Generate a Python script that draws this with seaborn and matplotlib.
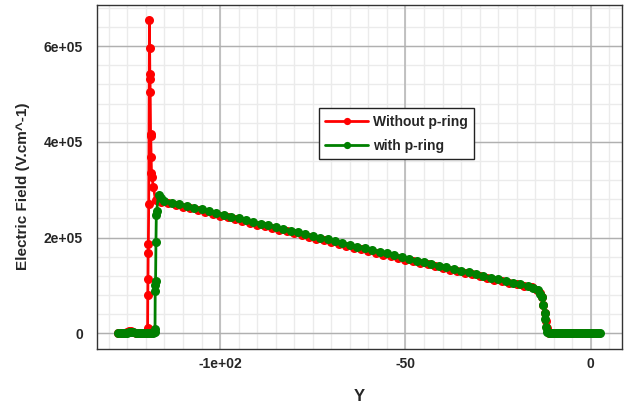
import matplotlib
matplotlib.use('Agg')
import matplotlib.pyplot as plt
from matplotlib.ticker import MultipleLocator, FixedLocator, FixedFormatter
import seaborn as sns
import pandas as pd

# position Y (um) and electric field (kV/cm)
red_pos = [-127.4, -126.8, -126.2, -125.6, -125.0, -124.5, -124.0, -123.4, -122.8, -122.2,
           -121.6, -121.0, -120.4, -119.9, -119.7,
           -119.55, -119.5, -119.45, -119.4, -119.35, -119.25, -119.05,
           -119.0, -118.95, -118.9, -118.85, -118.75, -118.7, -118.6, -118.5, -118.4, -118.0, -117.4,
           -116, -114, -112, -110, -108, -106, -104, -102, -100, -98,
           -96, -94, -92, -90, -88, -86, -84, -82, -80, -78,
           -76, -74, -72, -70, -68, -66, -64, -62, -60, -58,
           -56, -54, -52, -50, -48, -46, -44, -42, -40, -38,
           -36, -34, -32, -30, -28, -26, -24, -22, -20, -18, -16,
           -14.5, -13.6, -13.1, -12.8, -12.5, -12.2, -11.9, -11.6, -11.2,
           -10.6, -10.0, -9.4, -8.8, -8.2, -7.6, -7.0, -6.4, -5.8, -5.2,
           -4.6, -4.0, -3.4, -2.8, -2.2, -1.6, -1.0, -0.4, 0.2, 0.8, 1.4, 2.0]
red_field = [0, 0, 0, 1, 2, 4, 5, 3, 1, 0,
             0, 0, 0, 0, 3,
             10, 79, 114, 168, 187, 271, 654,
             596, 541, 532, 504, 417, 412, 368, 336, 327, 306, 278,
             275, 272, 268, 264, 261, 257, 253, 250, 246, 242,
             238, 235, 231, 227, 224, 220, 216, 213, 209, 205,
             201, 198, 194, 190, 187, 183, 179, 176, 172, 168,
             164, 161, 157, 153, 150, 147, 144, 140, 137, 133,
             130, 126, 123, 119, 116, 112, 109, 106, 102, 99, 96,
             91, 84, 76, 60, 42, 26, 10, 2, 0,
             0, 0, 0, 0, 0, 0, 0, 0, 0, 0,
             0, 0, 0, 0, 0, 0, 0, 0, 0, 0, 0, 0]

green_pos = [-127.4, -126.8, -126.2, -125.6, -125.0, -124.5, -124.0, -123.4, -122.8, -122.2,
             -121.6, -121.0, -120.4, -119.8, -119.2, -118.7, -118.2, -117.8, -117.6,
             -117.55, -117.5, -117.45, -117.4, -117.3, -117.2, -117.1, -116.6, -116.0,
             -115, -113, -111, -109, -107, -105, -103, -101, -99, -97,
             -95, -93, -91, -89, -87, -85, -83, -81, -79, -77,
             -75, -73, -71, -69, -67, -65, -63, -61, -59, -57,
             -55, -53, -51, -49, -47, -45, -43, -41, -39, -37,
             -35, -33, -31, -29, -27, -25, -23, -21, -19, -17,
             -15.5, -14.3, -13.6, -13.1, -12.8, -12.5, -12.3, -12.0, -11.7, -11.3,
             -10.7, -10.1, -9.5, -8.9, -8.3, -7.7, -7.1, -6.5, -5.9, -5.3,
             -4.7, -4.1, -3.5, -2.9, -2.3, -1.7, -1.1, -0.5, 0.1, 0.7, 1.3, 1.9, 2.4]
green_field = [0, 0, 0, 1, 1, 2, 3, 2, 1, 0,
               0, 0, 0, 0, 0, 0, 1, 2, 3,
               8, 88, 100, 109, 191, 247, 256, 290, 282,
               277, 273, 270, 266, 262, 259, 255, 251, 248, 244,
               240, 237, 233, 229, 226, 222, 218, 214, 211, 207,
               203, 200, 196, 192, 189, 185, 181, 178, 174, 170,
               167, 163, 159, 155, 152, 148, 145, 141, 138, 134,
               130, 127, 123, 120, 116, 113, 109, 106, 102, 98,
               95, 90, 83, 75, 60, 42, 30, 12, 3, 0,
               0, 0, 0, 0, 0, 0, 0, 0, 0, 0,
               1, 1, 0, 0, 0, 0, 0, 0, 0, 0, 0, 0, 0]

series_names = ['Without p-ring', 'with p-ring']
series_colors = ['#ff0000', '#008000']

x_ticks = [-100, -50, 0]
x_tick_labels = ['-1e+02', '-50', '0']
y_ticks = [0, 2e5, 4e5, 6e5]
y_tick_labels = ['0', '2e+05', '4e+05', '6e+05']

df = pd.concat([
    pd.DataFrame({'Y': red_pos, 'E': [v * 1000 for v in red_field], 'curve': series_names[0]}),
    pd.DataFrame({'Y': green_pos, 'E': [v * 1000 for v in green_field], 'curve': series_names[1]}),
], ignore_index=True)

sns.set_style('white')
plt.rcParams['font.family'] = ['Liberation Sans', 'DejaVu Sans']
plt.rcParams['font.weight'] = 'bold'

fig = plt.figure(figsize=(6.29, 4.07), dpi=100)
ax = fig.add_axes([0.1542, 0.1425, 0.8347, 0.845])

sns.lineplot(data=df, x='Y', y='E', hue='curve', hue_order=series_names,
             palette=dict(zip(series_names, series_colors)),
             estimator=None, sort=False, marker='o', markersize=6.5,
             markeredgewidth=0, linewidth=2, legend=False, ax=ax)

ax.set_xlim(-133.2, 8.4)
ax.set_ylim(-33e3, 686e3)

# grid: minor light, major darker
ax.xaxis.set_minor_locator(MultipleLocator(5))
ax.yaxis.set_minor_locator(MultipleLocator(2e4))
for v in range(-130, 10, 5):
    ax.axvline(v, color='#ebebeb', lw=1, zorder=0)
for v in range(-40000, 700000, 40000):
    ax.axhline(v, color='#ebebeb', lw=1, zorder=0)
for v in x_ticks:
    ax.axvline(v, color='#b8b8b8', lw=1.2, zorder=0.5)
for v in y_ticks:
    ax.axhline(v, color='#b0b0b0', lw=1.0, zorder=0.5)

ax.xaxis.set_major_locator(FixedLocator(x_ticks))
ax.xaxis.set_major_formatter(FixedFormatter(x_tick_labels))
ax.yaxis.set_major_locator(FixedLocator(y_ticks))
ax.yaxis.set_major_formatter(FixedFormatter(y_tick_labels))

ax.tick_params(which='major', direction='inout', length=8, width=1, color='#333333',
               labelsize=10, pad=2)
ax.tick_params(which='minor', direction='in', length=4, width=1, color='#333333')
ax.tick_params(axis='y', which='major', pad=6)
ax.tick_params(top=False, right=False, which='both')
for lab in ax.get_xticklabels() + ax.get_yticklabels():
    lab.set_fontweight('bold')

for s in ax.spines.values():
    s.set_color('#333333')
    s.set_linewidth(1)

ax.set_xlabel('Y', fontsize=12, fontweight='bold')
ax.set_ylabel('Electric Field (V.cm^-1)', fontsize=11, fontweight='bold')
ax.xaxis.set_label_coords(0.5, -0.116)
ax.yaxis.set_label_coords(-0.128, 0.474)

leg = ax.legend(ax.get_lines()[:2], series_names, loc='upper left',
                bbox_to_anchor=(0.423, 0.70), borderaxespad=0, fancybox=False,
                framealpha=1, edgecolor='#222222', prop={'weight': 'bold', 'size': 10},
                handlelength=3.1, handletextpad=0.35, labelspacing=0.75, borderpad=0.45,
                markerscale=0.8)
leg.get_frame().set_linewidth(1)

plt.savefig('out.png', dpi=100)
